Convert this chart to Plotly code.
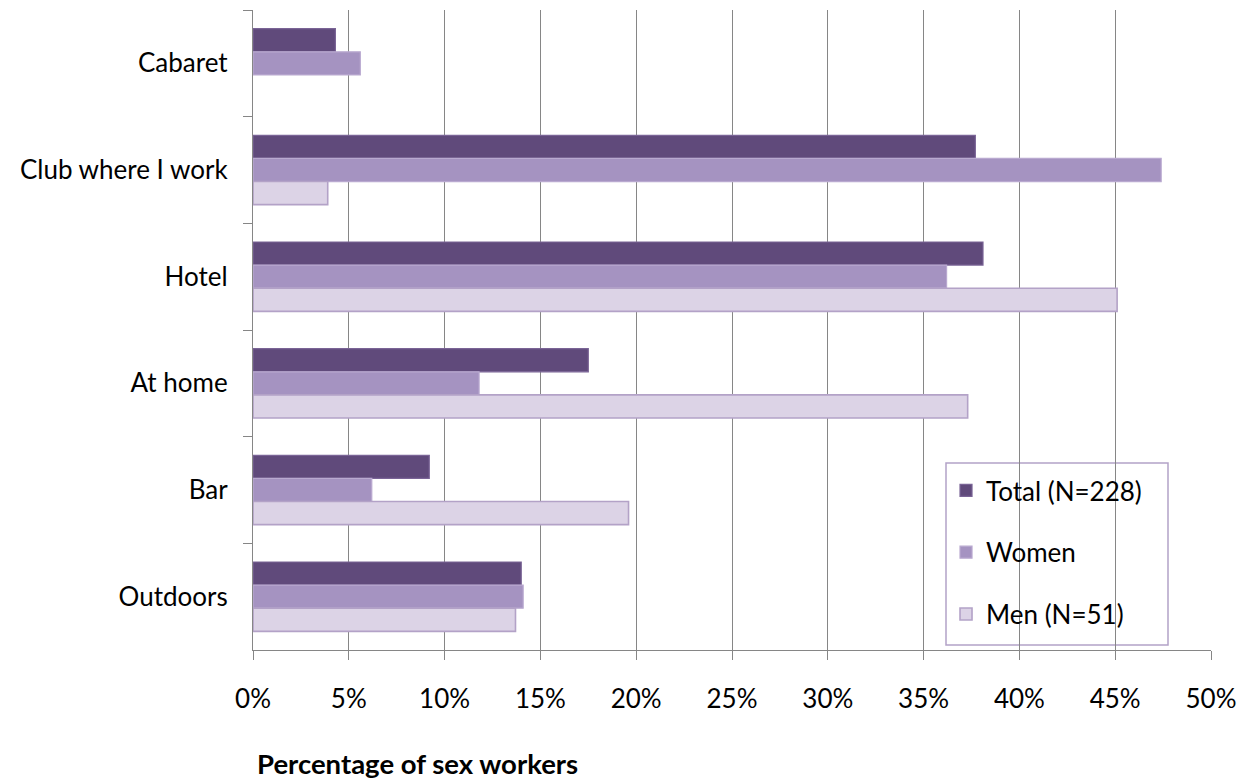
import plotly.graph_objects as go

categories = ["Cabaret", "Club where I work", "Hotel", "At home", "Bar", "Outdoors"]
total = [4.3, 37.7, 38.1, 17.5, 9.2, 14.0]
women = [5.6, 47.4, 36.2, 11.8, 6.2, 14.1]
men = [None, 3.9, 45.1, 37.3, 19.6, 13.7]
series_names = ["Total (N=228)", "Women", "Men (N=51)"]
x_ticks = [0, 5, 10, 15, 20, 25, 30, 35, 40, 45, 50]
x_tick_labels = [f"{v}%" for v in x_ticks]

colors = ["#604a7b", "#a593c1", "#dcd3e6"]
edge = ["#7a6496", "#b9a9d0", "#b3a2c7"]
values = [total, women, men]

fig = go.Figure()
for i, (name, vals) in enumerate(zip(series_names, values)):
    fig.add_trace(go.Bar(
        y=categories, x=vals, name=name, orientation="h",
        marker=dict(color=colors[i], line=dict(color=edge[i], width=1.2 if i < 2 else 1.6)),
        legendgroup=str(i),
    ))

font_family = "Lato, 'Open Sans', sans-serif"
fig.update_layout(
    width=1242, height=771,
    margin=dict(l=245, r=39, t=2, b=129),
    paper_bgcolor="white", plot_bgcolor="white",
    barmode="group", bargap=0.35, bargroupgap=0,
    font=dict(family=font_family, size=26, color="#000000"),
    showlegend=True,
    legend=dict(
        x=0.7234, y=0.286, xanchor="left", yanchor="top",
        borderwidth=0, bgcolor="rgba(0,0,0,0)",
        font=dict(size=26), traceorder="grouped", tracegroupgap=25,
        itemwidth=30,
    ),
    shapes=[dict(
        type="rect", xref="paper", yref="paper", layer="below",
        x0=(938 - 245) / 958, x1=(1160 - 245) / 958,
        y0=(642 - 637) / 640, y1=(642 - 455) / 640,
        line=dict(color="#b3a2c7", width=1.5), fillcolor="white",
    )],
    xaxis=dict(
        range=[0, 50], tickvals=x_ticks, ticktext=x_tick_labels,
        showgrid=True, gridcolor="#868686", gridwidth=1.3,
        showline=True, linecolor="#868686", linewidth=1.3,
        ticks="outside", ticklen=9, tickcolor="#868686", tickwidth=1.3,
        zeroline=False, tickfont=dict(size=26), ticklabelstandoff=17,
        mirror=False, layer="below traces",
    ),
    yaxis=dict(
        autorange="reversed", showgrid=False,
        showline=True, linecolor="#868686", linewidth=1.3,
        ticks="outside", tickson="boundaries", ticklen=9, tickcolor="#868686", tickwidth=1.3,
        tickfont=dict(size=26), ticklabelstandoff=19,
    ),
    annotations=[dict(
        text="<b>Percentage of sex workers</b>", xref="paper", yref="paper",
        x=(247 - 245) / 958, y=-0.149, xanchor="left", yanchor="top", showarrow=False,
        font=dict(size=27.5, family=font_family, color="#000000"),
    )],
)

fig.write_html("out.html")
